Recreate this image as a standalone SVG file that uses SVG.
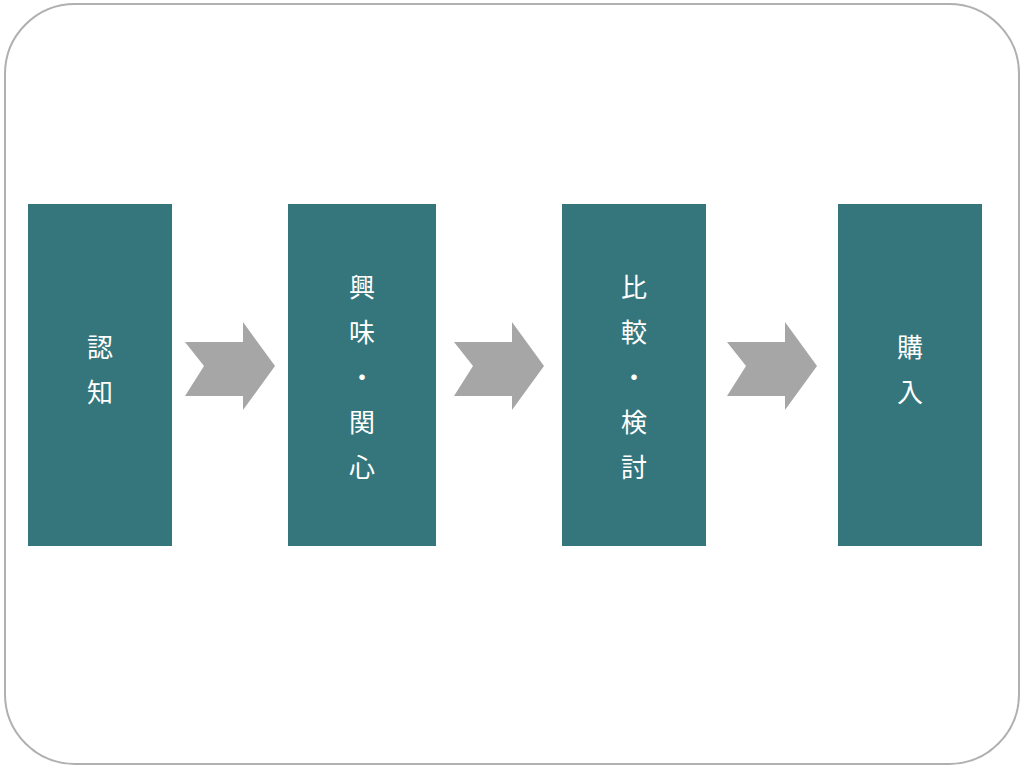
<svg xmlns="http://www.w3.org/2000/svg" width="1024" height="768" viewBox="0 0 1024 768">
<defs><style>
.box{fill:#35767c}
.t{font-family:"Noto Sans CJK JP",sans-serif;font-size:26px;fill:#fff;text-anchor:middle;dominant-baseline:central}
.arr{fill:#a6a6a6}
</style>
<polygon id="chev" points="0,20 19,44 0,74 58,74 58,88 90,44 58,0 58,20"/></defs>
<rect x="5" y="4" width="1014" height="760" rx="70" fill="#fff" stroke="#b0b0b0" stroke-width="2"/>
<g id="connectors">
<use href="#chev" class="arr" x="185" y="322"/>
<use href="#chev" class="arr" x="454" y="322"/>
<use href="#chev" class="arr" x="727" y="322"/>
</g>
<g id="n1"><rect class="box" x="28" y="204" width="144" height="342"/><text class="t" x="100" y="345">認</text><text class="t" x="100" y="390">知</text></g>
<g id="n2"><rect class="box" x="288" y="204" width="148" height="342"/><text class="t" x="362" y="285">興</text><text class="t" x="362" y="330">味</text><text class="t" x="362" y="375">・</text><text class="t" x="362" y="420">関</text><text class="t" x="362" y="465">心</text></g>
<g id="n3"><rect class="box" x="562" y="204" width="144" height="342"/><text class="t" x="634" y="285">比</text><text class="t" x="634" y="330">較</text><text class="t" x="634" y="375">・</text><text class="t" x="634" y="420">検</text><text class="t" x="634" y="465">討</text></g>
<g id="n4"><rect class="box" x="838" y="204" width="144" height="342"/><text class="t" x="910" y="345">購</text><text class="t" x="910" y="390">入</text></g>
</svg>
